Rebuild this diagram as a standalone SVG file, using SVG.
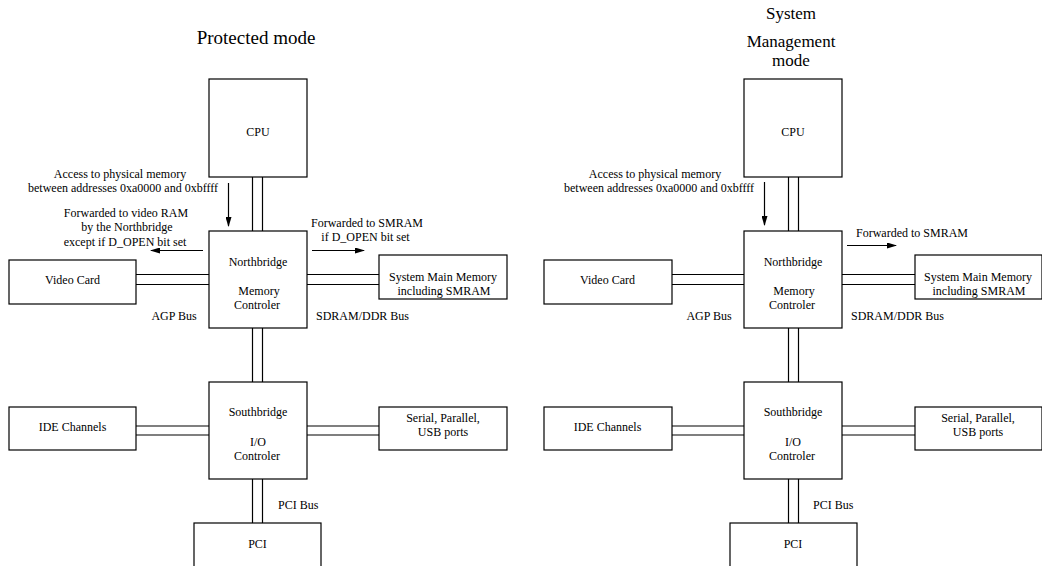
<svg xmlns="http://www.w3.org/2000/svg" width="1042" height="566" viewBox="0 0 1042 566" font-family="Liberation Serif, DejaVu Serif, serif">
<style>
.box{fill:#fff;stroke:#000;stroke-width:1.2}
.bus{stroke:#000;stroke-width:1.2;fill:none}
.arr{stroke:#000;stroke-width:1.2;fill:none;marker-end:url(#ah)}
text{font-family:'Liberation Serif','DejaVu Serif',serif;font-size:12px;fill:#000;text-anchor:middle}
.title{font-size:19px}
.title2{font-size:17px}
.st{text-anchor:start}
</style>
<defs>
<marker id="ah" markerWidth="10" markerHeight="6" refX="9" refY="3" orient="auto" markerUnits="userSpaceOnUse">
<path d="M0,0 L10,3 L0,6 Z" fill="#000"/>
</marker>
</defs>
<rect width="1042" height="566" fill="#fff"/>

<!-- Connectors -->
<g id="connectors">
<!-- left panel buses -->
<line class="bus" x1="252.5" y1="177" x2="252.5" y2="231"/><line class="bus" x1="262.5" y1="177" x2="262.5" y2="231"/>
<line class="bus" x1="252.5" y1="328" x2="252.5" y2="382"/><line class="bus" x1="262.5" y1="328" x2="262.5" y2="382"/>
<line class="bus" x1="252.5" y1="479" x2="252.5" y2="523"/><line class="bus" x1="262.5" y1="479" x2="262.5" y2="523"/>
<line class="bus" x1="136" y1="274.5" x2="209" y2="274.5"/><line class="bus" x1="136" y1="284.5" x2="209" y2="284.5"/>
<line class="bus" x1="307" y1="274.5" x2="379" y2="274.5"/><line class="bus" x1="307" y1="284.5" x2="379" y2="284.5"/>
<line class="bus" x1="136" y1="426" x2="209" y2="426"/><line class="bus" x1="136" y1="435" x2="209" y2="435"/>
<line class="bus" x1="307" y1="426" x2="379" y2="426"/><line class="bus" x1="307" y1="435" x2="379" y2="435"/>
<!-- left arrows -->
<line class="arr" x1="228.5" y1="183" x2="228.5" y2="226"/>
<line class="arr" x1="203" y1="250.5" x2="151" y2="250.5"/>
<line class="arr" x1="312" y1="250.5" x2="364" y2="250.5"/>
<!-- right panel buses -->
<line class="bus" x1="788.5" y1="177" x2="788.5" y2="231"/><line class="bus" x1="798.5" y1="177" x2="798.5" y2="231"/>
<line class="bus" x1="788.5" y1="328" x2="788.5" y2="382"/><line class="bus" x1="798.5" y1="328" x2="798.5" y2="382"/>
<line class="bus" x1="788.5" y1="479" x2="788.5" y2="523"/><line class="bus" x1="798.5" y1="479" x2="798.5" y2="523"/>
<line class="bus" x1="672" y1="274.5" x2="744" y2="274.5"/><line class="bus" x1="672" y1="284.5" x2="744" y2="284.5"/>
<line class="bus" x1="842" y1="274.5" x2="915" y2="274.5"/><line class="bus" x1="842" y1="284.5" x2="915" y2="284.5"/>
<line class="bus" x1="672" y1="426" x2="744" y2="426"/><line class="bus" x1="672" y1="435" x2="744" y2="435"/>
<line class="bus" x1="842" y1="426" x2="915" y2="426"/><line class="bus" x1="842" y1="435" x2="915" y2="435"/>
<!-- right arrows -->
<line class="arr" x1="764.5" y1="182" x2="764.5" y2="225"/>
<line class="arr" x1="847" y1="245.5" x2="896" y2="245.5"/>
</g>

<!-- Labels -->
<g id="labels">
<text class="title" x="256" y="44">Protected mode</text>
<text x="120" y="178">Access to physical memory</text>
<text x="123" y="192">between addresses 0xa0000 and 0xbffff</text>
<text x="126" y="216.7">Forwarded to video RAM</text>
<text x="127" y="230.7">by the Northbridge</text>
<text x="125" y="245.7">except if D_OPEN bit set</text>
<text x="367" y="226.7">Forwarded to SMRAM</text>
<text x="365.5" y="240.7">if D_OPEN bit set</text>
<text x="174" y="320">AGP Bus</text>
<text class="st" x="316" y="320">SDRAM/DDR Bus</text>
<text class="st" x="278" y="509">PCI Bus</text>

<text class="title2" x="791" y="19">System</text>
<text class="title2" x="791" y="47">Management</text>
<text class="title2" x="791" y="66">mode</text>
<text x="655" y="178">Access to physical memory</text>
<text x="659" y="192">between addresses 0xa0000 and 0xbffff</text>
<text x="912" y="236.7">Forwarded to SMRAM</text>
<text x="709" y="320">AGP Bus</text>
<text class="st" x="851" y="320">SDRAM/DDR Bus</text>
<text class="st" x="813" y="509">PCI Bus</text>
</g>

<!-- Left panel nodes -->
<g id="l-cpu"><rect class="box" x="209" y="79" width="98" height="98"/><text x="258" y="135.7">CPU</text></g>
<g id="l-northbridge"><rect class="box" x="209" y="231" width="98" height="97"/><text x="258" y="265.7">Northbridge</text><text x="259" y="294.7">Memory</text><text x="257" y="309.3">Controler</text></g>
<g id="l-video"><rect class="box" x="9" y="260" width="127" height="44"/><text x="72.5" y="284">Video Card</text></g>
<g id="l-memory"><rect class="box" x="379" y="255" width="128" height="44"/><text x="443" y="280.7">System Main Memory</text><text x="444" y="294.7">including SMRAM</text></g>
<g id="l-southbridge"><rect class="box" x="209" y="382" width="98" height="97"/><text x="258" y="416.3">Southbridge</text><text x="258" y="445.7">I/O</text><text x="257" y="460">Controler</text></g>
<g id="l-ide"><rect class="box" x="9" y="407" width="127" height="43"/><text x="72.5" y="431.3">IDE Channels</text></g>
<g id="l-serial"><rect class="box" x="379" y="407" width="128" height="43"/><text x="443" y="421.7">Serial, Parallel,</text><text x="443" y="435.7">USB ports</text></g>
<g id="l-pci"><rect class="box" x="194" y="523" width="127" height="60"/><text x="257.5" y="548.3">PCI</text></g>

<!-- Right panel nodes -->
<g id="r-cpu"><rect class="box" x="744" y="79" width="98" height="98"/><text x="793" y="135.7">CPU</text></g>
<g id="r-northbridge"><rect class="box" x="744" y="231" width="98" height="97"/><text x="793" y="265.7">Northbridge</text><text x="794" y="294.7">Memory</text><text x="792" y="309.3">Controler</text></g>
<g id="r-video"><rect class="box" x="544" y="260" width="128" height="44"/><text x="607.5" y="284">Video Card</text></g>
<g id="r-memory"><rect class="box" x="915" y="255" width="127" height="44"/><text x="978" y="280.7">System Main Memory</text><text x="979" y="294.7">including SMRAM</text></g>
<g id="r-southbridge"><rect class="box" x="744" y="382" width="98" height="97"/><text x="793" y="416.3">Southbridge</text><text x="793" y="445.7">I/O</text><text x="792" y="460">Controler</text></g>
<g id="r-ide"><rect class="box" x="544" y="407" width="128" height="43"/><text x="607.5" y="431.3">IDE Channels</text></g>
<g id="r-serial"><rect class="box" x="915" y="407" width="127" height="43"/><text x="978" y="421.7">Serial, Parallel,</text><text x="978" y="435.7">USB ports</text></g>
<g id="r-pci"><rect class="box" x="730" y="523" width="127" height="60"/><text x="793" y="548.3">PCI</text></g>
</svg>
